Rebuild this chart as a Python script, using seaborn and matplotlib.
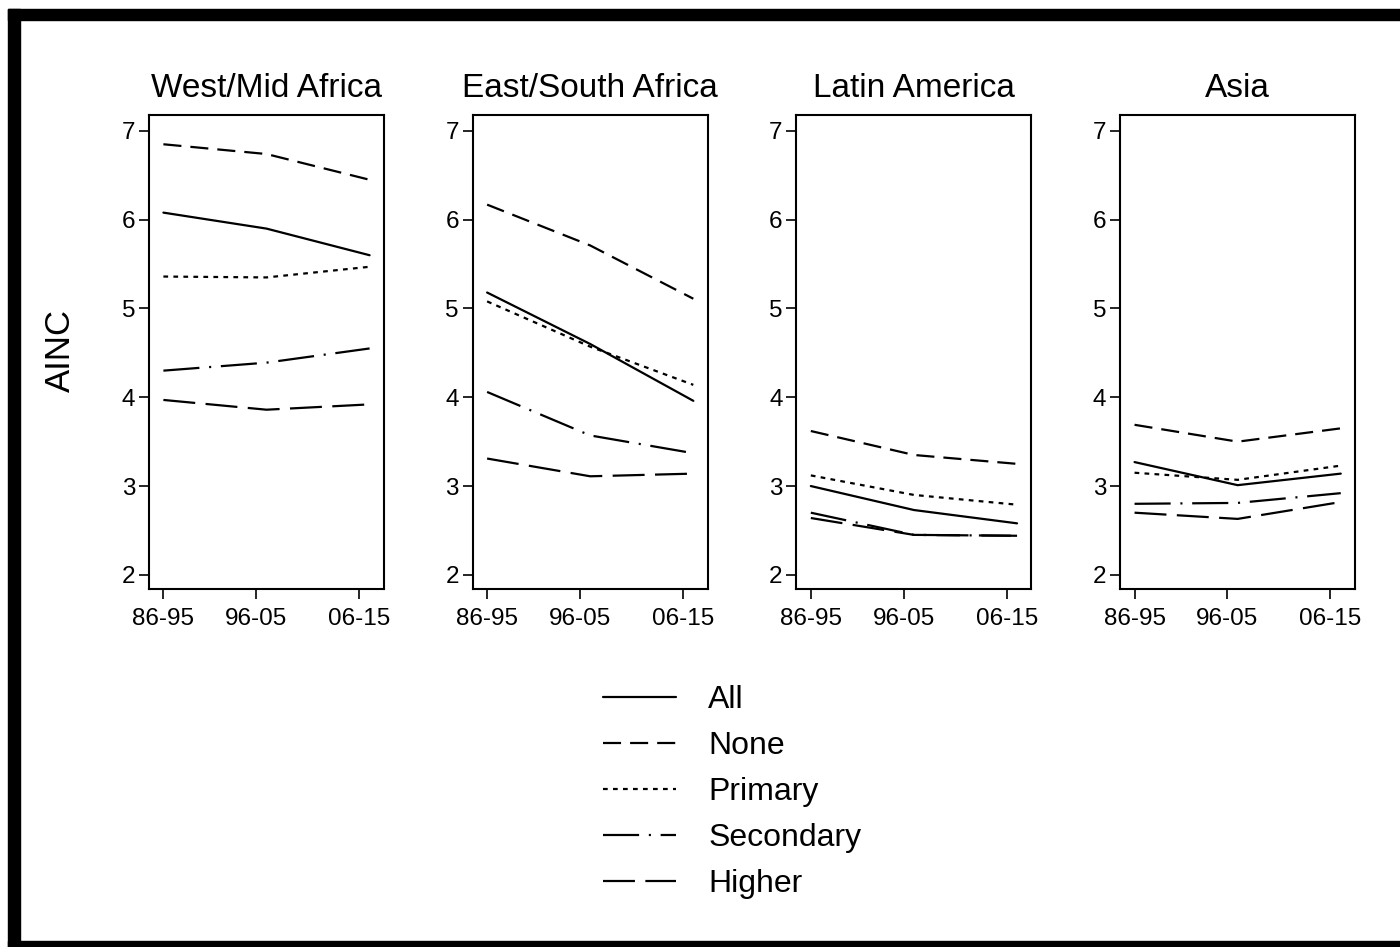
import numpy as np
import pandas as pd
import matplotlib
matplotlib.use("Agg")
import matplotlib.pyplot as plt
import seaborn as sns
from matplotlib.lines import Line2D
from matplotlib.patches import Rectangle

# Data
regions = ["West/Mid Africa", "East/South Africa", "Latin America", "Asia"]
groups = ["All", "None", "Primary", "Secondary", "Higher"]
periods = ["86-95", "96-05", "06-15"]
tick_years = [1991, 2000, 2010]
period_years = [1991, 2001, 2011]

west_mid = {
    "All": [6.08, 5.90, 5.60],
    "None": [6.85, 6.74, 6.45],
    "Primary": [5.36, 5.35, 5.47],
    "Secondary": [4.30, 4.39, 4.55],
    "Higher": [3.97, 3.86, 3.92],
}
east_south = {
    "All": [5.18, 4.60, 3.96],
    "None": [6.17, 5.71, 5.11],
    "Primary": [5.08, 4.57, 4.14],
    "Secondary": [4.06, 3.57, 3.37],
    "Higher": [3.31, 3.11, 3.14],
}
latin_america = {
    "All": [3.00, 2.73, 2.58],
    "None": [3.62, 3.35, 3.25],
    "Primary": [3.12, 2.90, 2.79],
    "Secondary": [2.70, 2.45, 2.44],
    "Higher": [2.64, 2.45, 2.44],
}
asia = {
    "All": [3.27, 3.01, 3.14],
    "None": [3.69, 3.50, 3.65],
    "Primary": [3.15, 3.07, 3.23],
    "Secondary": [2.80, 2.81, 2.92],
    "Higher": [2.70, 2.63, 2.82],
}
region_data = [west_mid, east_south, latin_america, asia]

rows = []
for reg, d in zip(regions, region_data):
    for g in groups:
        for yr, v in zip(period_years, d[g]):
            rows.append({"region": reg, "group": g, "year": yr, "ainc": v})
df = pd.DataFrame(rows)

sns.set_theme(style="white")
plt.rcParams["font.family"] = ["Liberation Sans", "DejaVu Sans"]
plt.rcParams["lines.scale_dashes"] = False
plt.rcParams["text.color"] = "black"

dashes = {
    "All": "",
    "None": (13, 6.5),
    "Primary": (3.4, 3.8),
    "Secondary": (26, 7, 1.5, 7),
    "Higher": (23, 7.5),
}
lw = 1.6

fig = plt.figure(figsize=(14, 9.47), dpi=100)
gs = fig.add_gridspec(1, 4, left=0.1064, right=0.968, top=0.8786, bottom=0.378, wspace=0.377)

for i, reg in enumerate(regions):
    ax = fig.add_subplot(gs[0, i])
    sub = df[df["region"] == reg]
    sns.lineplot(data=sub, x="year", y="ainc", style="group", style_order=groups,
                 dashes=dashes, color="black", linewidth=lw, legend=False,
                 estimator=None, sort=False, ax=ax)
    ax.set_xlim(1989.6, 2012.4)
    ax.set_ylim(1.84, 7.18)
    ax.set_xticks(tick_years)
    ax.set_xticklabels(periods)
    ax.set_yticks([2, 3, 4, 5, 6, 7])
    ax.set_xlabel("")
    ax.set_ylabel("")
    ax.set_title(reg, fontsize=24, pad=13, color="black")
    for s in ax.spines.values():
        s.set_visible(True)
        s.set_color("black")
        s.set_linewidth(1.5)
    ax.tick_params(axis="both", which="major", direction="out", length=7, width=1.2,
                   colors="black", labelsize=17.5, left=True, bottom=True)
    ax.tick_params(axis="x", pad=7)
    ax.tick_params(axis="y", pad=3)

fig.text(60 / 1400, 1 - 350 / 947, "AINC", rotation=90, fontsize=25,
         ha="center", va="center", color="black")

handles = [Line2D([0], [0], color="black", linewidth=lw,
                  linestyle="-" if g == "All" else (0, dashes[g])) for g in groups]
fig.legend(handles, groups, loc="center", bbox_to_anchor=(0.523, 0.1637),
           frameon=False, fontsize=23, handlelength=2.3, handletextpad=1.0,
           labelspacing=0.5, labelcolor="black")

# thick black frame around the figure
fig.patches.append(Rectangle((8 / 1400, 0), 12 / 1400, 1 - 9 / 947, transform=fig.transFigure,
                             color="black", zorder=10))
fig.patches.append(Rectangle((8 / 1400, 1 - 20 / 947), 1 - 8 / 1400, 11 / 947,
                             transform=fig.transFigure, color="black", zorder=10))
fig.patches.append(Rectangle((8 / 1400, 0), 1 - 8 / 1400, 6 / 947,
                             transform=fig.transFigure, color="black", zorder=10))

fig.savefig("out.png", dpi=100, facecolor="white")
